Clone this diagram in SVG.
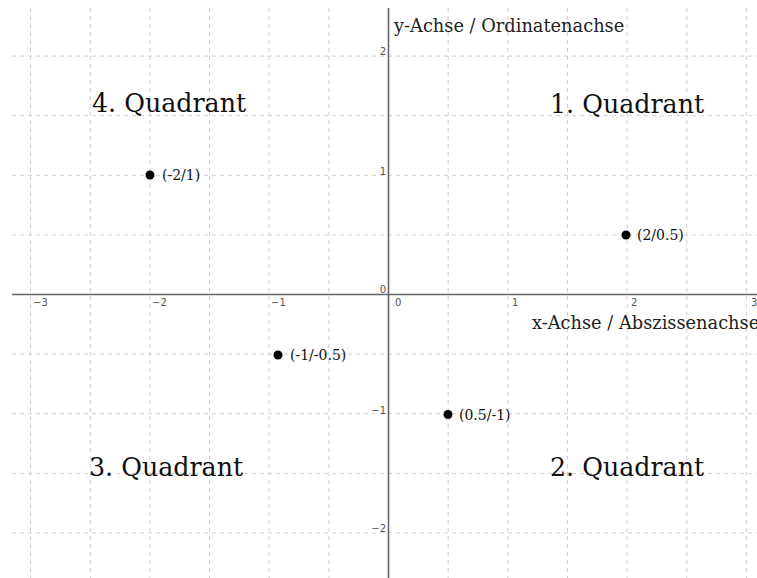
<svg xmlns="http://www.w3.org/2000/svg" width="757" height="578" viewBox="0 0 757 578">
<style>
.grid line{stroke:#cfcfcf;stroke-width:1;stroke-dasharray:4,4}
.axis{stroke:#666;stroke-width:1.6}
.tick{font-family:"DejaVu Sans",sans-serif;font-size:10px;fill:#555}
.quad{font-family:"DejaVu Serif",serif;font-size:25.3px;fill:#111}
.axlab{font-family:"DejaVu Serif",serif;font-size:17.8px;fill:#222}
.plab{font-family:"DejaVu Serif",serif;font-size:14px;fill:#111}
.dot{fill:#000}
</style>
<rect width="757" height="578" fill="#fff"/>
<g class="grid">
<line x1="30.6" y1="8" x2="30.6" y2="578"/>
<line x1="90.3" y1="8" x2="90.3" y2="578"/>
<line x1="149.9" y1="8" x2="149.9" y2="578"/>
<line x1="209.5" y1="8" x2="209.5" y2="578"/>
<line x1="269.2" y1="8" x2="269.2" y2="578"/>
<line x1="328.9" y1="8" x2="328.9" y2="578"/>
<line x1="448.2" y1="8" x2="448.2" y2="578"/>
<line x1="507.8" y1="8" x2="507.8" y2="578"/>
<line x1="567.5" y1="8" x2="567.5" y2="578"/>
<line x1="627.1" y1="8" x2="627.1" y2="578"/>
<line x1="686.8" y1="8" x2="686.8" y2="578"/>
<line x1="746.4" y1="8" x2="746.4" y2="578"/>
<line x1="12" y1="56.1" x2="757" y2="56.1"/>
<line x1="12" y1="115.7" x2="757" y2="115.7"/>
<line x1="12" y1="175.3" x2="757" y2="175.3"/>
<line x1="12" y1="234.9" x2="757" y2="234.9"/>
<line x1="12" y1="354.1" x2="757" y2="354.1"/>
<line x1="12" y1="413.7" x2="757" y2="413.7"/>
<line x1="12" y1="473.3" x2="757" y2="473.3"/>
<line x1="12" y1="532.9" x2="757" y2="532.9"/>
</g>
<g id="axes">
<line class="axis" x1="12" y1="294.5" x2="757" y2="294.5"/>
<line class="axis" x1="388.5" y1="8" x2="388.5" y2="578"/>
</g>
<g id="ticks">
<text class="tick" x="33" y="306">−3</text>
<text class="tick" x="152" y="306">−2</text>
<text class="tick" x="271" y="306">−1</text>
<text class="tick" x="395" y="306">0</text>
<text class="tick" x="512" y="306">1</text>
<text class="tick" x="631" y="306">2</text>
<text class="tick" x="751" y="306">3</text>
<text class="tick" x="386" y="55" text-anchor="end">2</text>
<text class="tick" x="386" y="175" text-anchor="end">1</text>
<text class="tick" x="386" y="293" text-anchor="end">0</text>
<text class="tick" x="386" y="414" text-anchor="end">−1</text>
<text class="tick" x="386" y="532" text-anchor="end">−2</text>
</g>
<g id="axis-labels">
<text class="axlab" x="394" y="32">y-Achse / Ordinatenachse</text>
<text class="axlab" x="532" y="329">x-Achse / Abszissenachse</text>
</g>
<g id="quadrants">
<text id="q1" class="quad" x="550" y="113">1. Quadrant</text>
<text id="q2" class="quad" x="550" y="476">2. Quadrant</text>
<text id="q3" class="quad" x="89" y="476">3. Quadrant</text>
<text id="q4" class="quad" x="92" y="112">4. Quadrant</text>
</g>
<g id="P1"><circle class="dot" cx="626" cy="235" r="4.5"/><text class="plab" x="637" y="240">(2/0.5)</text></g>
<g id="P2"><circle class="dot" cx="150" cy="175" r="4.5"/><text class="plab" x="162" y="180">(-2/1)</text></g>
<g id="P3"><circle class="dot" cx="278" cy="355" r="4.5"/><text class="plab" x="290" y="360">(-1/-0.5)</text></g>
<g id="P4"><circle class="dot" cx="448" cy="414.5" r="4.5"/><text class="plab" x="459" y="419.5">(0.5/-1)</text></g>
</svg>
